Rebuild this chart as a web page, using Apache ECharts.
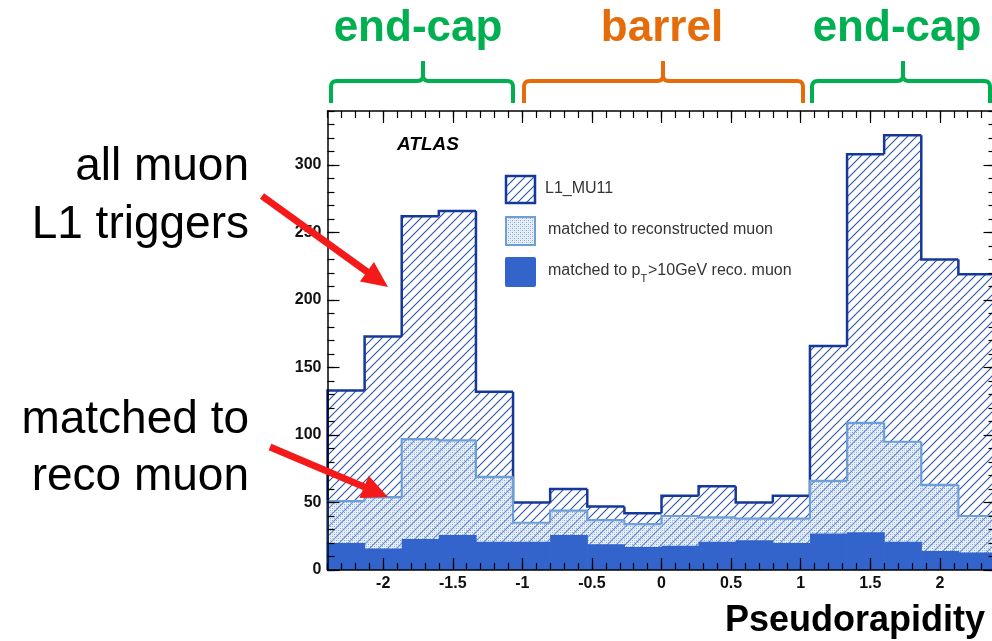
<!DOCTYPE html>
<html><head><meta charset="utf-8">
<script src="https://cdn.jsdelivr.net/npm/echarts@6/dist/echarts.min.js"></script>
<style>html,body{margin:0;padding:0;background:#fff}#chart{width:992px;height:641px}</style>
</head><body><div id="chart"></div>
<script>
// ---- data ----
const binEdges = [-2.4, -2.1333, -1.8667, -1.6, -1.3333, -1.0667, -0.8, -0.5333, -0.2667, 0, 0.2667, 0.5333, 0.8, 1.0667, 1.3333, 1.6, 1.8667, 2.1333, 2.4];
const allL1Triggers = [133, 173, 262, 266, 132, 50, 60, 47, 42, 55, 62, 50, 55, 166, 308, 322, 230, 219];
const matchedReco = [51, 54, 97, 96, 69, 35, 44, 37, 34, 40, 39, 38, 38, 66, 109, 95, 63, 40];
const matchedPt10 = [20, 16, 23, 26, 21, 21, 26, 19, 17, 18, 21, 22, 20, 27, 28, 21, 14, 13];
const xMajorTicks = [-2, -1.5, -1, -0.5, 0, 0.5, 1, 1.5, 2];
const yMajorTicks = [0, 50, 100, 150, 200, 250, 300];
const legendNames = ['L1_MU11', 'matched to reconstructed muon'];

const xMinorTicks = [];
for (let i = 0; i <= 48; i++) xMinorTicks.push(+(-2.4 + i * 0.1).toFixed(2));
const yMinorTicks = [];
for (let v = 0; v <= 340; v += 10) yMinorTicks.push(v);

const FONT = 'Liberation Sans, Arial, Helvetica, sans-serif';
const DARK = '#16389a', LIGHT = '#6d9fd6', SOLID = '#3264cc';

function hatchPattern() {
  const s = 9, c = document.createElement('canvas');
  c.width = s; c.height = s;
  const g = c.getContext('2d');
  g.strokeStyle = '#2a52ae'; g.lineWidth = 1.1;
  g.beginPath();
  g.moveTo(-1, s + 1); g.lineTo(s + 1, -1);
  g.moveTo(-1, 1); g.lineTo(1, -1);
  g.moveTo(s - 1, s + 1); g.lineTo(s + 1, s - 1);
  g.stroke();
  return { image: c, repeat: 'repeat' };
}
function dotPattern() {
  const s = 4, c = document.createElement('canvas');
  c.width = s; c.height = s;
  const g = c.getContext('2d');
  g.fillStyle = 'rgba(200,218,244,0.4)';
  g.fillRect(0, 0, s, s);
  g.fillStyle = 'rgba(110,155,215,0.85)';
  g.fillRect(0, 0, 1, 1); g.fillRect(2, 2, 1, 1);
  g.fillStyle = 'rgba(110,155,215,0.4)';
  g.fillRect(2, 0, 1, 1); g.fillRect(0, 2, 1, 1);
  return { image: c, repeat: 'repeat' };
}
const HATCH = hatchPattern(), DOTS = dotPattern();

function histData(vals) {
  return vals.map((v, i) => [binEdges[i], binEdges[i + 1], v, i > 0 ? vals[i - 1] : 0, i === vals.length - 1 ? 1 : 0]);
}
function histSeries(name, vals, fill, stroke, lw, z) {
  return {
    type: 'custom', name, z,
    xAxisIndex: 0, yAxisIndex: 0,
    encode: { x: [0, 1], y: 2 },
    data: histData(vals),
    renderItem(params, api) {
      const lo = api.value(0), hi = api.value(1), v = api.value(2), prev = api.value(3), last = api.value(4);
      const a = api.coord([lo, v]), b = api.coord([hi, 0]);
      const children = [{
        type: 'rect',
        shape: { x: a[0], y: a[1], width: b[0] - a[0] + 0.6, height: b[1] - a[1] },
        style: { fill, stroke: null }
      }];
      if (stroke) {
        const pts = [api.coord([lo, prev]), api.coord([lo, v]), api.coord([hi, v])];
        if (last) pts.push(api.coord([hi, 0]));
        children.push({ type: 'polyline', shape: { points: pts }, style: { stroke, lineWidth: lw, fill: null, lineJoin: 'miter' } });
      }
      return { type: 'group', children };
    }
  };
}

function xAx(pos, ticks, len, showLine, labels) {
  return {
    type: 'value', min: -2.4, max: 2.4, position: pos, z: 10,
    axisLine: { show: showLine, onZero: false, lineStyle: { color: '#000', width: 1.5 } },
    axisTick: { show: true, inside: true, length: len, customValues: ticks, lineStyle: { color: '#000', width: 1.2 } },
    axisLabel: labels ? { customValues: xMajorTicks, fontFamily: FONT, fontWeight: 'bold', fontSize: 16, color: '#111', margin: 6 } : { show: false },
    splitLine: { show: false }
  };
}
function yAx(pos, ticks, len, showLine, labels) {
  return {
    type: 'value', min: 0, max: 340, position: pos, z: 10,
    axisLine: { show: showLine, onZero: false, lineStyle: { color: '#000', width: 1.5 } },
    axisTick: { show: true, inside: true, length: len, customValues: ticks, lineStyle: { color: '#000', width: 1.2 } },
    axisLabel: labels ? { customValues: yMajorTicks, fontFamily: FONT, fontWeight: 'bold', fontSize: 16, color: '#111', margin: 6 } : { show: false },
    splitLine: { show: false }
  };
}

function arrow(x0, y0, x1, y1) {
  const dx = x1 - x0, dy = y1 - y0, L = Math.hypot(dx, dy), ux = dx / L, uy = dy / L;
  const hl = 26, hw = 12;
  const bx = x1 - ux * hl, by = y1 - uy * hl;
  return [
    { type: 'line', z: 100, shape: { x1: x0, y1: y0, x2: bx + ux * 2, y2: by + uy * 2 }, style: { stroke: '#f41a1a', lineWidth: 7 } },
    { type: 'polygon', z: 100, shape: { points: [[x1, y1], [bx - uy * hw, by + ux * hw], [bx + uy * hw, by - ux * hw]] }, style: { fill: '#f41a1a' } }
  ];
}
function quad(p0, c, p1, n) {
  const out = [];
  for (let i = 1; i <= n; i++) {
    const t = i / n, m = 1 - t;
    out.push([m * m * p0[0] + 2 * m * t * c[0] + t * t * p1[0], m * m * p0[1] + 2 * m * t * c[1] + t * t * p1[1]]);
  }
  return out;
}
function brace(x0, x1, xm, color) {
  const yTop = 61, yLine = 81, yBot = 103, r = 6;
  const left = [[x0, yBot], [x0, yLine + r], ...quad([x0, yLine + r], [x0, yLine], [x0 + r, yLine], 6),
    [xm - r, yLine], ...quad([xm - r, yLine], [xm, yLine], [xm, yLine - r], 6), [xm, yTop]];
  const right = [[xm, yLine - r], ...quad([xm, yLine - r], [xm, yLine], [xm + r, yLine], 6),
    [x1 - r, yLine], ...quad([x1 - r, yLine], [x1, yLine], [x1, yLine + r], 6), [x1, yBot]];
  return [
    { type: 'polyline', z: 100, shape: { points: left }, style: { stroke: color, lineWidth: 4, fill: null } },
    { type: 'polyline', z: 100, shape: { points: right }, style: { stroke: color, lineWidth: 4, fill: null } }
  ];
}
function txt(text, x, y, size, opts) {
  return { type: 'text', z: 100, x, y, style: Object.assign({ text, fontFamily: FONT, fontSize: size, fill: '#000', verticalAlign: 'middle', align: 'left' }, opts || {}) };
}

const graphics = [
  txt('end-cap', 418, 29, 44, { align: 'center', fontWeight: 'bold', fill: '#00b050' }),
  txt('barrel', 662, 29, 44, { align: 'center', fontWeight: 'bold', fill: '#e46c0a' }),
  txt('end-cap', 897, 29, 44, { align: 'center', fontWeight: 'bold', fill: '#00b050' }),
  ...brace(331, 513, 423, '#00b050'),
  ...brace(524, 803, 663, '#e46c0a'),
  ...brace(812, 990, 903, '#00b050'),
  txt('all muon', 249, 167, 46, { align: 'right' }),
  txt('L1 triggers', 249, 225, 46, { align: 'right' }),
  txt('matched to', 249, 420, 46, { align: 'right' }),
  txt('reco muon', 249, 477, 46, { align: 'right' }),
  ...arrow(262, 196, 388, 287),
  ...arrow(270, 447, 388, 497),
  txt('ATLAS', 397, 145, 19, { fontWeight: 'bold', fontStyle: 'italic' }),
  txt('Pseudorapidity', 985, 621, 36, { align: 'right', fontWeight: 'bold' }),
  // legend
  { type: 'rect', z: 100, shape: { x: 506, y: 176, width: 29, height: 27 }, style: { fill: HATCH, stroke: DARK, lineWidth: 2.5 } },
  { type: 'rect', z: 100, shape: { x: 506, y: 217, width: 29, height: 28 }, style: { fill: DOTS, stroke: LIGHT, lineWidth: 2 } },
  { type: 'rect', z: 100, shape: { x: 505, y: 257, width: 31, height: 30, r: 2 }, style: { fill: SOLID } },
  txt(legendNames[0], 545, 189, 16, { fill: '#333' }),
  txt(legendNames[1], 548, 230, 16, { fill: '#333' }),
  txt('matched to p', 548, 271, 16, { fill: '#333' }),
  txt('T', 640.5, 279, 11, { fill: '#333' }),
  txt('>10GeV reco. muon', 648, 271, 16, { fill: '#333' })
];

const chart = echarts.init(document.getElementById('chart'), null, { renderer: 'canvas' });
chart.setOption({
  animation: false,
  backgroundColor: '#fff',
  grid: { left: 327.5, top: 111, width: 668, height: 459, containLabel: false, outerBoundsMode: 'none' },
  xAxis: [
    xAx('bottom', xMajorTicks, 12, true, true),
    xAx('bottom', xMinorTicks, 7, false, false),
    xAx('top', xMajorTicks, 12, true, false),
    xAx('top', xMinorTicks, 7, false, false)
  ],
  yAxis: [
    yAx('left', yMajorTicks, 12, true, true),
    yAx('left', yMinorTicks, 7, false, false),
    yAx('right', yMajorTicks, 12, true, false),
    yAx('right', yMinorTicks, 7, false, false)
  ],
  series: [
    histSeries('L1_MU11', allL1Triggers, HATCH, DARK, 2.5, 2),
    histSeries('matched to reconstructed muon', matchedReco, DOTS, LIGHT, 2.2, 3),
    histSeries('matched to pT>10GeV reco. muon', matchedPt10, SOLID, null, 0, 4)
  ],
  graphic: graphics
});
</script>
</body></html>
